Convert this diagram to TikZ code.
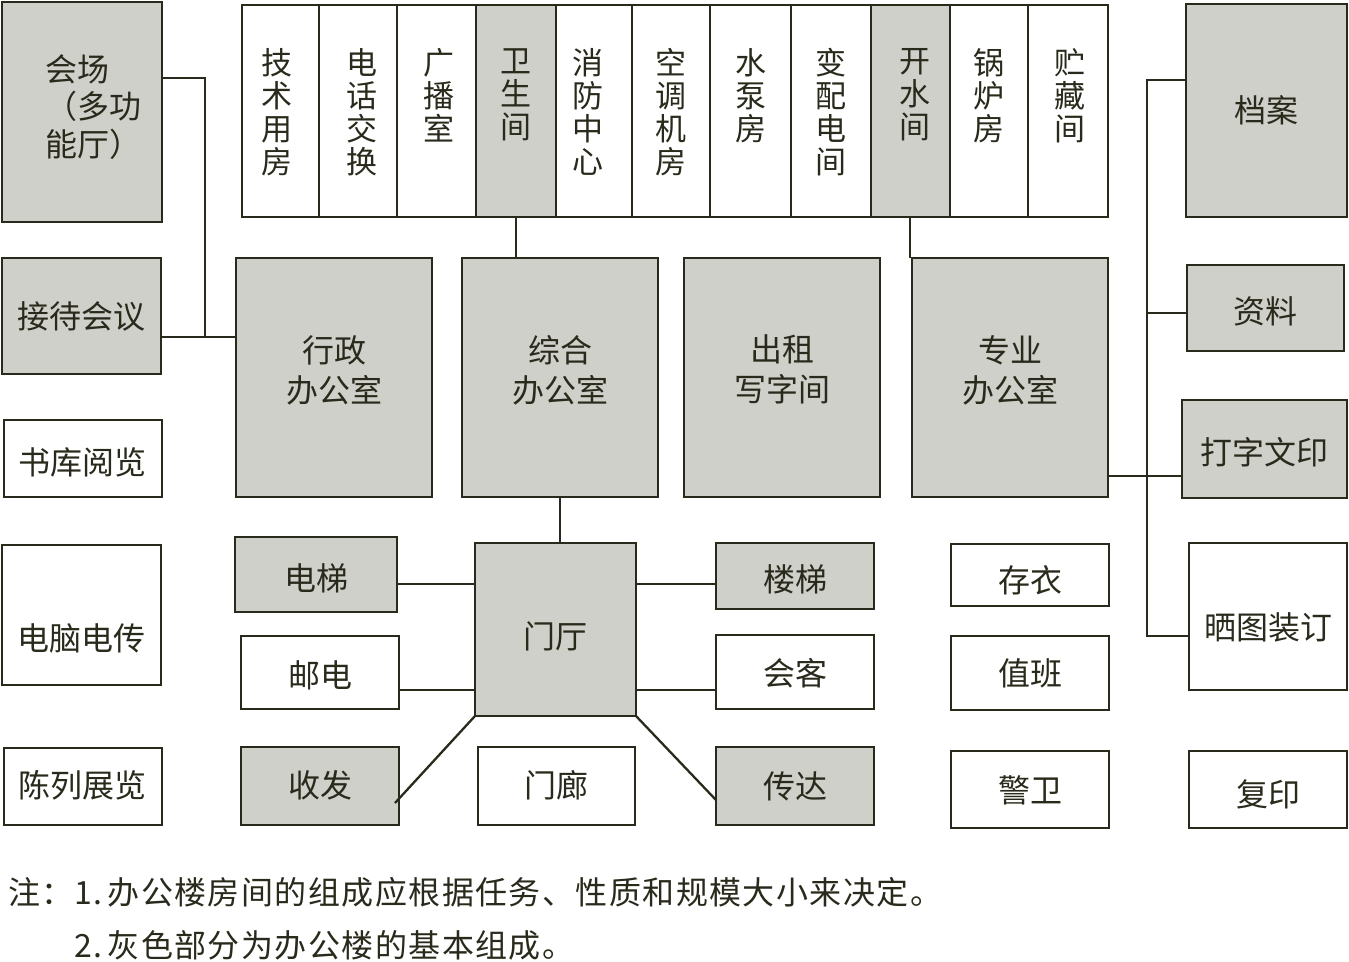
\documentclass[tikz,border=0pt]{standalone}
\usepackage{fontspec}
\newfontfamily\cjk{Noto Sans CJK SC}
\newfontfamily\cjknote[LetterSpace=4.5]{Noto Sans CJK SC}
\usetikzlibrary{calc}
\definecolor{fillg}{HTML}{D0D0CB}
\definecolor{ink}{HTML}{2A2A1C}
\tikzset{
  base/.style={draw=ink, line width=2.3pt, inner sep=0pt, outer sep=0pt},
  gbox/.style={base, fill=fillg},
  wbox/.style={base, fill=white},
  lbl/.style={inner sep=0pt, text=ink, font=\cjk\fontsize{32}{40}\selectfont, align=center},
  vt/.style={inner sep=0pt, text=ink, font=\cjk\fontsize{31}{33}\selectfont, align=center, anchor=north},
  conn/.style={draw=ink, line width=2.3pt},
  note/.style={inner sep=0pt, text=ink, font=\cjknote\fontsize{32}{36}\selectfont, anchor=west}
}
% name, x1, y1, x2, y2, style, text, text-y
\newcommand\rbox[8]{\node[#6, minimum width={#4-#2}, minimum height={#5-#3}] (#1) at ({(#2+#4)/2},{(#3+#5)/2}) {};
  \node[lbl] (#1-t) at ({(#2+#4)/2},#8) {#7};}
\begin{document}
\begin{tikzpicture}[x=1pt,y=-1pt]
\useasboundingbox (0,0) rectangle (1349,961);
% left column
\node[gbox, minimum width=160, minimum height=220] (hc) at (82,112) {};
\node[lbl, font=\cjk\fontsize{32}{37.5}\selectfont, align=left, anchor=west] (hc-t) at (45,107) {会场\\（多功\\能厅）};
\rbox{jd}{2}{258}{161}{374}{gbox}{接待会议}{316}
\rbox{sk}{4}{420}{162}{497}{wbox}{书库阅览}{462}
\rbox{dn}{2}{545}{161}{685}{wbox}{电脑电传}{638}
\rbox{cl}{4}{748}{162}{825}{wbox}{陈列展览}{785}
% top strip
\rbox{c1}{242}{5}{319}{217}{wbox}{}{0}
\rbox{c2}{319}{5}{397}{217}{wbox}{}{0}
\rbox{c3}{397}{5}{476}{217}{wbox}{}{0}
\rbox{c4}{476}{5}{556}{217}{gbox}{}{0}
\rbox{c5}{556}{5}{632}{217}{wbox}{}{0}
\rbox{c6}{632}{5}{710}{217}{wbox}{}{0}
\rbox{c7}{710}{5}{791}{217}{wbox}{}{0}
\rbox{c8}{791}{5}{871}{217}{wbox}{}{0}
\rbox{c9}{871}{5}{950}{217}{gbox}{}{0}
\rbox{c10}{950}{5}{1028}{217}{wbox}{}{0}
\rbox{c11}{1028}{5}{1108}{217}{wbox}{}{0}
\node[vt] (t1) at ($(c1.north)+(-4,43)$) {技\\术\\用\\房};
\node[vt] (t2) at ($(c2.north)+(4,43)$) {电\\话\\交\\换};
\node[vt] (t3) at ($(c3.north)+(2,43)$) {广\\播\\室};
\node[vt] (t4) at ($(c4.north)+(0,43)$) {卫\\生\\间};
\node[vt] (t5) at ($(c5.north)+(-6,43)$) {消\\防\\中\\心};
\node[vt] (t6) at ($(c6.north)+(0,43)$) {空\\调\\机\\房};
\node[vt] (t7) at ($(c7.north)+(0,43)$) {水\\泵\\房};
\node[vt] (t8) at ($(c8.north)+(0,43)$) {变\\配\\电\\间};
\node[vt] (t9) at ($(c9.north)+(4,43)$) {开\\水\\间};
\node[vt] (t10) at ($(c10.north)+(0,43)$) {锅\\炉\\房};
\node[vt] (t11) at ($(c11.north)+(2,43)$) {贮\\藏\\间};
% offices
\rbox{xz}{236}{258}{432}{497}{gbox}{行政\\办公室}{370}
\rbox{zh}{462}{258}{658}{497}{gbox}{综合\\办公室}{370}
\rbox{cz}{684}{258}{880}{497}{gbox}{出租\\写字间}{369}
\rbox{zy}{912}{258}{1108}{497}{gbox}{专业\\办公室}{370}
% right column
\rbox{da}{1186}{4}{1347}{217}{gbox}{档案}{110}
\rbox{zl}{1187}{265}{1344}{351}{gbox}{资料}{311}
\rbox{dz}{1182}{400}{1347}{498}{gbox}{打字文印}{452}
\rbox{st}{1189}{543}{1347}{690}{wbox}{晒图装订}{627}
\rbox{fy}{1189}{751}{1347}{828}{wbox}{复印}{794}
% lobby group
\rbox{dt}{235}{537}{397}{612}{gbox}{电梯}{578}
\rbox{yd}{241}{636}{399}{709}{wbox}{邮电}{675}
\rbox{sf}{241}{747}{399}{825}{gbox}{收发}{785}
\rbox{mt}{475}{543}{636}{716}{gbox}{门厅}{636}
\rbox{ml}{478}{747}{635}{825}{wbox}{门廊}{785}
\rbox{lt}{716}{543}{874}{609}{gbox}{楼梯}{579}
\rbox{hk}{716}{635}{874}{709}{wbox}{会客}{673}
\rbox{cd}{716}{747}{874}{825}{gbox}{传达}{786}
\rbox{cy}{951}{544}{1109}{606}{wbox}{存衣}{580}
\rbox{zb}{951}{636}{1109}{710}{wbox}{值班}{673}
\rbox{jw}{951}{751}{1109}{828}{wbox}{警卫}{790}
% connectors
\coordinate (la) at (205,78);
\coordinate (lb) at (205,337);
\draw[conn] (hc.east |- la) -- (la) -- (lb);
\draw[conn] (jd.east |- lb) -- (xz.west |- lb);
\draw[conn] (c4.south) -- (c4.south |- zh.north);
\coordinate (kb) at (910,217);
\draw[conn] (kb) -- (kb |- zy.north);
\draw[conn] (zh.south) -- (zh.south |- mt.north);
\coordinate (e1) at (0,584);
\coordinate (e2) at (0,690);
\draw[conn] (dt.east |- e1) -- (mt.west |- e1);
\draw[conn] (yd.east |- e2) -- (mt.west |- e2);
\draw[conn] (mt.east |- e1) -- (lt.west |- e1);
\draw[conn] (mt.east |- e2) -- (hk.west |- e2);
\coordinate (sfe) at (395,803);
\coordinate (cde) at (716,800);
\draw[conn] (mt.south west) -- (sfe);
\draw[conn] (mt.south east) -- (cde);
% right bus
\coordinate (r1) at (1147,80);
\coordinate (r2) at (1147,313);
\coordinate (r3) at (1147,476);
\coordinate (r4) at (1147,636);
\draw[conn] (da.west |- r1) -- (r1) -- (r4) -- (st.west |- r4);
\draw[conn] (r2) -- (zl.west |- r2);
\draw[conn] (zy.east |- r3) -- (dz.west |- r3);
% notes
\node[note] (n0) at (8,892) {注：};
\node[note] (n1) at (74,892) {1.\,办公楼房间的组成应根据任务、性质和规模大小来决定。};
\node[note] (n2) at (74,945) {2.\,灰色部分为办公楼的基本组成。};
\end{tikzpicture}
\end{document}
